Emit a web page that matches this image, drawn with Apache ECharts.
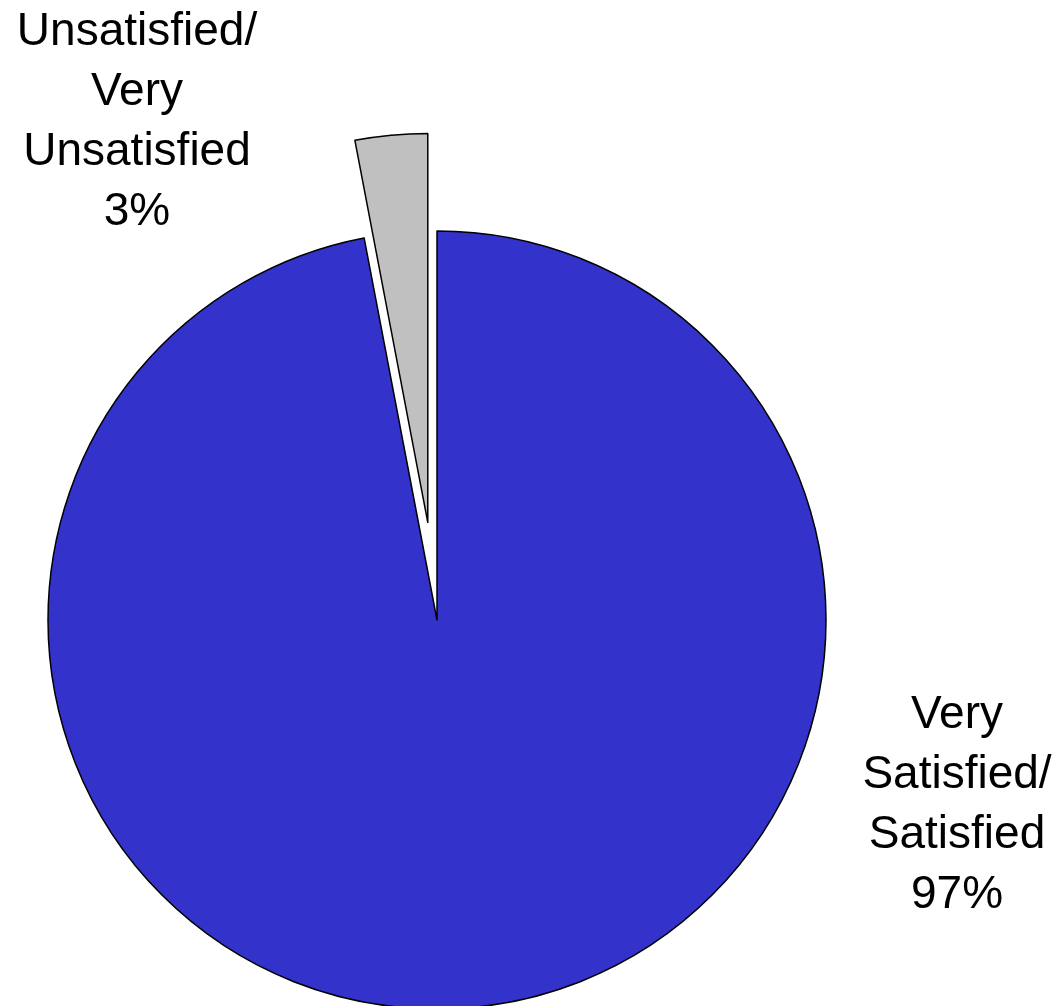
<!DOCTYPE html>
<html>
<head>
<meta charset="utf-8">
<script src="https://cdn.jsdelivr.net/npm/echarts@6/dist/echarts.min.js"></script>
<style>
html,body{margin:0;padding:0;background:#fff;}
#chart{width:1064px;height:1006px;}
</style>
</head>
<body>
<div id="chart"></div>
<script>
const categories = ["Very\nSatisfied/\nSatisfied", "Unsatisfied/\nVery\nUnsatisfied"];
const values = [97, 3];
const colors = ["#3333CC", "#C0C0C0"];
const explodedIndex = 1;
const labelPos = [[957, 805], [137, 122]];

const center = [437, 620];
const radius = 389;
const explodeDist = 98;

// mid angle of exploded slice (clockwise from 12 o'clock)
const total = values.reduce((a, b) => a + b, 0);
let before = 0;
for (let i = 0; i < explodedIndex; i++) before += values[i];
const midFrac = (before + values[explodedIndex] / 2) / total;
const ang = midFrac * 2 * Math.PI;
const explodedCenter = [center[0] + explodeDist * Math.sin(ang), center[1] - explodeDist * Math.cos(ang)];

function makeSeries(cen, showIdx) {
  return {
    type: 'pie',
    center: cen,
    radius: radius,
    startAngle: 90,
    clockwise: true,
    silent: true,
    avoidLabelOverlap: false,
    emphasis: {disabled: true},
    label: {
      show: true,
      position: 'inside',
      formatter: p => p.name + '\n' + p.value + '%',
      fontFamily: 'Liberation Sans, Arial, sans-serif',
      fontSize: 46,
      lineHeight: 60,
      color: '#000',
      align: 'center'
    },
    labelLine: {show: false},
    labelLayout: function (params) {
      const pos = labelPos[params.dataIndex];
      return {x: pos[0], y: pos[1], align: 'center', verticalAlign: 'middle'};
    },
    data: categories.map((c, i) => ({
      name: c,
      value: values[i],
      label: {show: showIdx(i)},
      itemStyle: showIdx(i)
        ? {color: colors[i], borderColor: '#000', borderWidth: 1.5}
        : {color: 'rgba(0,0,0,0)', borderWidth: 0}
    }))
  };
}

const chart = echarts.init(document.getElementById('chart'), null, {renderer: 'canvas'});
chart.setOption({
  backgroundColor: '#ffffff',
  animation: false,
  series: [
    makeSeries(center, i => i !== explodedIndex),
    makeSeries(explodedCenter, i => i === explodedIndex)
  ]
});
</script>
</body>
</html>
